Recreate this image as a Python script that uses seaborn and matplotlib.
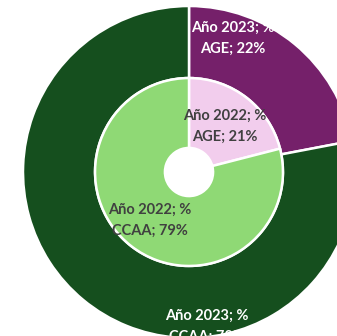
import matplotlib
matplotlib.use("Agg")
import matplotlib.pyplot as plt
import seaborn as sns

sns.set_theme(style="white")
plt.rcParams['font.family'] = ['Lato', 'DejaVu Sans']

categories = ["AGE", "CCAA"]
values_2023 = [22, 78]
values_2022 = [21, 79]
labels_2023 = ["Año 2023; %\nAGE; 22%", "Año 2023; %\nCCAA; 78%"]
labels_2022 = ["Año 2022; %\nAGE; 21%", "Año 2022; %\nCCAA; 79%"]

outer_colors = ["#75206A", "#154F1E"]
inner_colors = ["#F2CDED", "#8FD975"]

W, H = 337, 336
cx, cy, R = 189, 172, 166

fig = plt.figure(figsize=(W / 100, H / 100), dpi=100)
ax = fig.add_axes([0, 0, 1, 1])

ax.pie(values_2023, radius=1.0, colors=outer_colors, startangle=90, counterclock=False,
       wedgeprops=dict(width=1.0 - 0.566, edgecolor="white", linewidth=1.8))
ax.pie(values_2022, radius=0.566, colors=inner_colors, startangle=90, counterclock=False,
       wedgeprops=dict(width=0.566 - 0.145, edgecolor="white", linewidth=1.8))

ax.set_xlim(-cx / R, (W - cx) / R)
ax.set_ylim(-(H - cy) / R, cy / R)
ax.set_aspect("auto")
ax.axis("off")

fs = 10.5
ls = 1.6
ax.text(0.265, 0.805, labels_2023[0], ha="center", va="center", color="white",
        fontsize=fs, fontweight="bold", linespacing=ls)
ax.text(0.108, -0.93, labels_2023[1], ha="center", va="center", color="white",
        fontsize=fs, fontweight="bold", linespacing=ls)
ax.text(0.217, 0.277, labels_2022[0], ha="center", va="center", color="#404040",
        fontsize=fs, fontweight="bold", linespacing=ls)
ax.text(-0.235, -0.29, labels_2022[1], ha="center", va="center", color="#404040",
        fontsize=fs, fontweight="bold", linespacing=ls)

fig.savefig("out.png", dpi=100)
